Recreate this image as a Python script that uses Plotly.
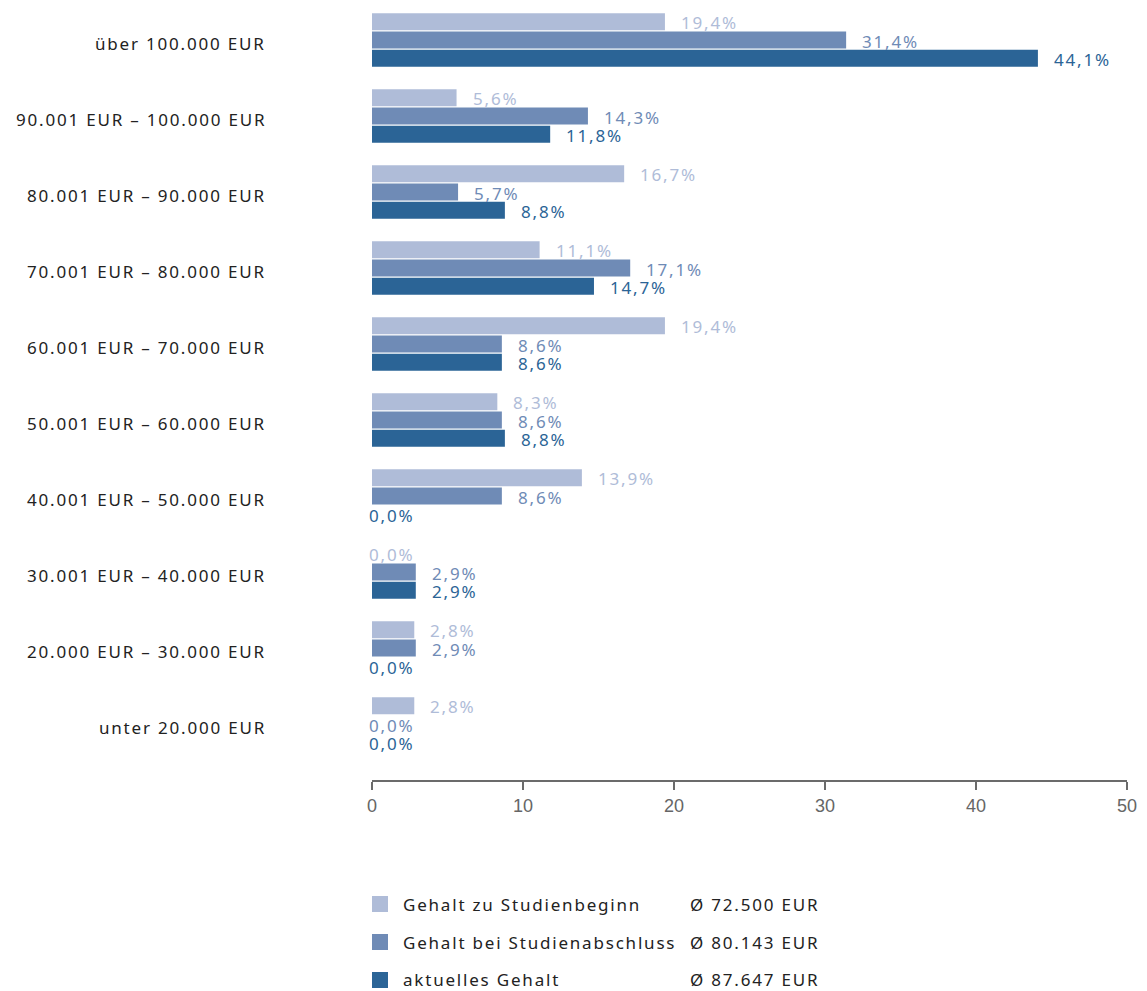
import plotly.graph_objects as go

categories = ["über 100.000 EUR", "90.001 EUR – 100.000 EUR", "80.001 EUR – 90.000 EUR",
              "70.001 EUR – 80.000 EUR", "60.001 EUR – 70.000 EUR", "50.001 EUR – 60.000 EUR",
              "40.001 EUR – 50.000 EUR", "30.001 EUR – 40.000 EUR", "20.000 EUR – 30.000 EUR",
              "unter 20.000 EUR"]
beginn = [19.4, 5.6, 16.7, 11.1, 19.4, 8.3, 13.9, 0.0, 2.8, 2.8]
abschluss = [31.4, 14.3, 5.7, 17.1, 8.6, 8.6, 8.6, 2.9, 2.9, 0.0]
aktuell = [44.1, 11.8, 8.8, 14.7, 8.6, 8.8, 0.0, 2.9, 0.0, 0.0]
series_names = ["Gehalt zu Studienbeginn", "Gehalt bei Studienabschluss", "aktuelles Gehalt"]
series_means = ["Ø 72.500 EUR", "Ø 80.143 EUR", "Ø 87.647 EUR"]
colors = ["#AFBCD8", "#6F8BB6", "#2B6496"]
x_ticks = [0, 10, 20, 30, 40, 50]

FONT = "Noto Sans"
FS = 17
LS = "1.8px"


def sp(t):
    return f'<span style="letter-spacing:{LS}">{t}</span>'


W, H = 1147, 991
L, R, T, B = 372, 20, 2, 211
pw, ph = W - L - R, H - T - B

fig = go.Figure()
series = [beginn, abschluss, aktuell]
for name, vals, col in zip(series_names, series, colors):
    fig.add_trace(go.Bar(y=categories, x=vals, orientation="h", name=name,
                         marker=dict(color=col, line=dict(width=0)), showlegend=False))

annotations = []
# category labels
for cat in categories:
    annotations.append(dict(x=0, y=cat, xref="paper", yref="y", text=sp(cat),
                            showarrow=False, xanchor="right", yanchor="middle",
                            xshift=-104, yshift=-3,
                            font=dict(family=FONT, size=FS, color="#222222")))

# value labels
for i, (vals, col) in enumerate(zip(series, colors)):
    for cat, v in zip(categories, vals):
        annotations.append(dict(
            x=v, y=cat, xref="x", yref="y",
            text=sp(f"{v:.1f}%".replace(".", ",")),
            showarrow=False, xanchor="left", yanchor="middle",
            xshift=14 if v > 0 else -5, yshift=-(i - 1) * 18.2 - 1,
            font=dict(family=FONT, size=FS, color=col)))

# custom legend
shapes = []
for i, (name, mean, col) in enumerate(zip(series_names, series_means, colors)):
    cy = 904 + i * 38
    y0 = (H - B - (cy + 8)) / ph
    y1 = (H - B - (cy - 8)) / ph
    shapes.append(dict(type="rect", xref="paper", yref="paper",
                       x0=0, x1=16 / pw, y0=y0, y1=y1,
                       fillcolor=col, line=dict(width=0)))
    yc = (H - B - cy) / ph
    annotations.append(dict(x=(401 - L) / pw, y=yc, xref="paper", yref="paper",
                            text=sp(name), showarrow=False, xanchor="left", yanchor="middle",
                            font=dict(family=FONT, size=FS, color="#222222")))
    annotations.append(dict(x=(688 - L) / pw, y=yc, xref="paper", yref="paper",
                            text=sp(mean), showarrow=False, xanchor="left", yanchor="middle",
                            font=dict(family=FONT, size=FS, color="#222222")))

n = len(categories)
fig.update_layout(
    width=W, height=H,
    margin=dict(l=L, r=R, t=T, b=B),
    paper_bgcolor="white", plot_bgcolor="white",
    barmode="group", bargap=0.28, bargroupgap=0.08,
    annotations=annotations, shapes=shapes,
    xaxis=dict(range=[0, 50], tickvals=x_ticks, showgrid=False, zeroline=False,
               showline=True, linecolor="#6b6b6b", linewidth=2,
               ticks="outside", ticklen=8, tickwidth=1.5, tickcolor="#6b6b6b",
               tickfont=dict(family="Liberation Sans Narrow, Liberation Sans", size=18, color="#666666"),
               anchor="y", side="bottom", fixedrange=True),
    yaxis=dict(type="category", categoryorder="array", categoryarray=categories,
               range=[n - 0.5 + 18 / 76, -0.5], showgrid=False, zeroline=False,
               showline=False, ticks="", showticklabels=False, fixedrange=True),
    font=dict(family=FONT),
)

fig.write_html("out.html", config={"displayModeBar": False},
               post_script="document.body.style.margin='0';")
